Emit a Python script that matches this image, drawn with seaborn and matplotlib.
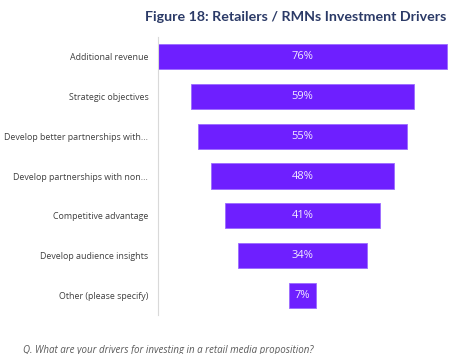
import numpy as np
import pandas as pd
import matplotlib
matplotlib.use("Agg")
import matplotlib.pyplot as plt
import seaborn as sns

categories = ["Additional revenue", "Strategic objectives", "Develop better partnerships with...",
              "Develop partnerships with non...", "Competitive advantage",
              "Develop audience insights", "Other (please specify)"]
values = [76, 59, 55, 48, 41, 34, 7]
title = "Figure 18: Retailers / RMNs Investment Drivers"
footnote = "Q. What are your drivers for investing in a retail media proposition?"

sns.set_style("white")
plt.rcParams['font.family'] = ['Open Sans', 'DejaVu Sans']

df = pd.DataFrame({"driver": categories, "pct": values})
fig = plt.figure(figsize=(4.67, 3.54), dpi=100)
ax = fig.add_axes([158/467, 1-315/354, 291/467, 278/354])
sns.barplot(data=df, x="pct", y="driver", ax=ax, color="#6E1FFF", saturation=1,
            width=0.63, edgecolor="#9B6BFF", linewidth=0.6)
# centre each bar to make a funnel
for p, v in zip(ax.patches, values):
    p.set_x(-v/2)
    ax.text(0, p.get_y()+p.get_height()/2, f"{v}%", ha="center", va="center",
            color="#F2EAFF", fontsize=8)
ax.set_xlim(-38.1, 38.6)
ax.set_ylim(6.5, -0.5)
ax.set_xlabel("")
ax.set_ylabel("")
ax.set_xticks([])
ax.tick_params(axis="y", length=0, pad=7, labelsize=6.4, labelcolor="#404040")
for s in ["top", "right", "bottom"]:
    ax.spines[s].set_visible(False)
ax.spines["left"].set_color("#D9D9D9")
ax.spines["left"].set_linewidth(0.8)

fig.text(446/467, 1-17/354, title, ha="right", va="center", fontsize=10.3,
         fontweight="bold", color="#2B3A67", family=["Lato", "DejaVu Sans"])
fig.text(23/467, 1-350/354, footnote, ha="left", va="center", fontsize=7,
         style="italic", color="#595959")
fig.savefig("out.png", dpi=100)
